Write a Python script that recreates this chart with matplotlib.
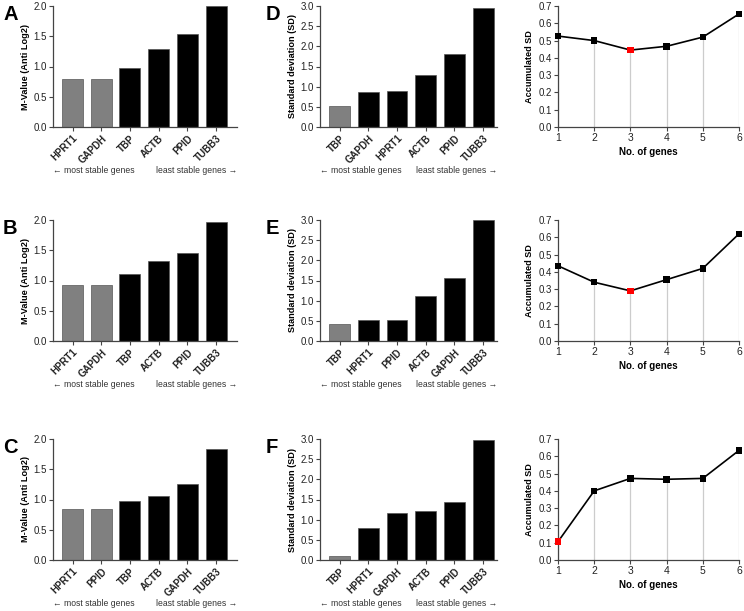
import numpy as np
import matplotlib
matplotlib.use("Agg")
import matplotlib.pyplot as plt

plt.rcParams['font.family'] = ['Liberation Sans', 'DejaVu Sans']

# -----------------------------
# Datos
# -----------------------------
genes_a = ["HPRT1", "GAPDH", "TBP", "ACTB", "PPID", "TUBB3"]
mval_a = [0.80, 0.80, 0.98, 1.29, 1.53, 2.00]

genes_b = ["HPRT1", "GAPDH", "TBP", "ACTB", "PPID", "TUBB3"]
mval_b = [0.93, 0.93, 1.10, 1.32, 1.45, 1.97]

genes_c = ["HPRT1", "PPID", "TBP", "ACTB", "GAPDH", "TUBB3"]
mval_c = [0.84, 0.84, 0.97, 1.06, 1.26, 1.84]

genes_d = ["TBP", "GAPDH", "HPRT1", "ACTB", "PPID", "TUBB3"]
sd_d = [0.53, 0.86, 0.90, 1.30, 1.82, 2.94]

genes_e = ["TBP", "HPRT1", "PPID", "ACTB", "GAPDH", "TUBB3"]
sd_e = [0.43, 0.52, 0.53, 1.12, 1.55, 3.00]

genes_f = ["TBP", "HPRT1", "GAPDH", "ACTB", "PPID", "TUBB3"]
sd_f = [0.11, 0.80, 1.17, 1.22, 1.44, 2.98]

n_genes = [1, 2, 3, 4, 5, 6]
acc_sd_1 = [0.526, 0.500, 0.445, 0.467, 0.520, 0.654]
acc_sd_2 = [0.435, 0.340, 0.290, 0.355, 0.420, 0.620]
acc_sd_3 = [0.106, 0.400, 0.472, 0.467, 0.472, 0.634]

# numero de barras grises (mas estables)
n_gris_m = 2
n_gris_sd = 1

# -----------------------------
# Figura
# -----------------------------
W, H = 744, 611
fig = plt.figure(figsize=(W / 100, H / 100), dpi=100)


def ejes(x0, x1, y0, y1):
    return fig.add_axes([x0 / W, 1 - y1 / H, (x1 - x0) / W, (y1 - y0) / H])


def estilo(ax):
    for s in ["top", "right"]:
        ax.spines[s].set_visible(False)
    for s in ["left", "bottom"]:
        ax.spines[s].set_color("#444444")
        ax.spines[s].set_linewidth(0.9)
    ax.tick_params(colors="#444444", labelcolor="#222222", labelsize=7,
                   length=3, width=0.8, pad=1.5)


def barras(ax, genes, vals, n_gris, ymax, ystep, ylabel, xmax):
    x = np.arange(len(genes))
    colores = ["#808080"] * n_gris + ["black"] * (len(genes) - n_gris)
    ax.bar(x, vals, width=0.73, color=colores, edgecolor="#555555", linewidth=0.5)
    ax.set_xlim(-0.68, xmax)
    ax.set_ylim(0, ymax)
    ax.set_yticks(np.arange(0, ymax + 0.001, ystep))
    ax.set_yticklabels([f"{v:.1f}" for v in np.arange(0, ymax + 0.001, ystep)])
    ax.set_xticks(x)
    ax.set_xticklabels(genes, rotation=45, ha="right", rotation_mode="anchor",
                       fontweight="bold", fontsize=7)
    ax.set_ylabel(ylabel, fontweight="bold", fontsize=6.6, labelpad=2.5)
    estilo(ax)
    ax.text(0.0, -0.36, "\u2190 most stable genes", transform=ax.transAxes,
            fontsize=6.2, color="#333333", ha="left", va="center")
    ax.text(1.0, -0.36, "least stable genes \u2192", transform=ax.transAxes,
            fontsize=6.2, color="#333333", ha="right", va="center")


def linea(ax, xs, ys):
    imin = int(np.argmin(ys))
    ax.vlines(xs, 0, ys, color="#cccccc", linewidth=0.9, zorder=1)
    ax.plot(xs, ys, color="black", linewidth=1.2, zorder=2, clip_on=False)
    colores = ["black"] * len(xs)
    colores[imin] = "red"
    ax.scatter(xs, ys, marker="s", s=22, c=colores, zorder=3, clip_on=False,
               edgecolors="none")
    ax.set_xlim(1, 6)
    ax.set_ylim(0, 0.7)
    ax.set_xticks(xs)
    ax.set_yticks(np.arange(0, 0.701, 0.1))
    ax.set_yticklabels([f"{v:.1f}" for v in np.arange(0, 0.701, 0.1)])
    ax.set_xlabel("No. of genes", fontweight="bold", fontsize=7, labelpad=3)
    ax.set_ylabel("Accumulated SD", fontweight="bold", fontsize=6.6, labelpad=3)
    estilo(ax)
    ax.tick_params(axis="x", labelsize=7.5)


filas = [(6, 127), (220, 341), (439, 560)]
datos_m = [(genes_a, mval_a, "A"), (genes_b, mval_b, "B"), (genes_c, mval_c, "C")]
datos_sd = [(genes_d, sd_d, "D"), (genes_e, sd_e, "E"), (genes_f, sd_f, "F")]
datos_acc = [acc_sd_1, acc_sd_2, acc_sd_3]

for i, (y0, y1) in enumerate(filas):
    ax1 = ejes(53, 237, y0, y1)
    g, v, letra = datos_m[i]
    barras(ax1, g, v, n_gris_m, 2.0, 0.5, "M-Value (Anti Log2)", 5.73)
    fig.text(3 / W, 1 - (y0 - 1) / H, letra, fontsize=14.5, fontweight="bold",
             ha="left", va="top")

    ax2 = ejes(320, 497, y0, y1)
    g, v, letra = datos_sd[i]
    barras(ax2, g, v, n_gris_sd, 3.0, 0.5, "Standard deviation (SD)", 5.48)
    fig.text(266 / W, 1 - (y0 - 1) / H, letra, fontsize=14.5, fontweight="bold",
             ha="left", va="top")

    ax3 = ejes(558, 739, y0, y1)
    linea(ax3, n_genes, datos_acc[i])

fig.savefig("out.png", dpi=100)
